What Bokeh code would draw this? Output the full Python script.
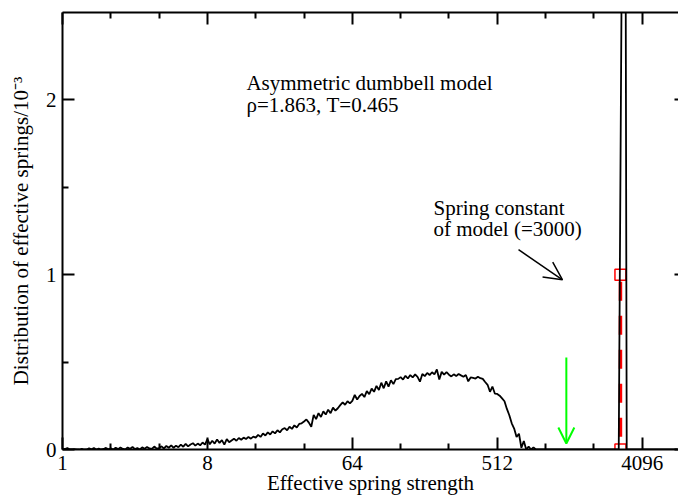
from bokeh.plotting import figure
from bokeh.models import (Range1d, FixedTicker, NumeralTickFormatter, LogAxis, LinearAxis,
                          Label, Arrow, OpenHead)
from bokeh.embed import file_html
from bokeh.resources import INLINE

# ---- data ----
strength_oct0 = [1.000, 1.035, 1.072, 1.110, 1.149, 1.189, 1.231, 1.275, 1.320, 1.366,
                 1.414, 1.464, 1.516, 1.569, 1.625, 1.682, 1.741, 1.803, 1.866, 1.932]
strength_oct1 = [2.000, 2.071, 2.144, 2.219, 2.297, 2.378, 2.462, 2.549, 2.639, 2.732,
                 2.828, 2.928, 3.031, 3.138, 3.249, 3.364, 3.482, 3.605, 3.732, 3.864]
strength_oct2 = [4.000, 4.141, 4.287, 4.438, 4.595, 4.757, 4.925, 5.098, 5.278, 5.464,
                 5.657, 5.856, 6.063, 6.277, 6.498, 6.727, 6.964, 7.210, 7.464, 7.728]
strength_oct3 = [8.000, 8.282, 8.574, 8.877, 9.190, 9.514, 9.849, 10.20, 10.56, 10.93,
                 11.31, 11.71, 12.13, 12.55, 13.00, 13.45, 13.93, 14.42, 14.93, 15.46]
strength_oct4 = [16.00, 16.56, 17.15, 17.75, 18.38, 19.03, 19.70, 20.39, 21.11, 21.86,
                 22.63, 23.43, 24.25, 25.11, 25.99, 26.91, 27.86, 28.84, 29.86, 30.91]
strength_oct5 = [32.00, 33.13, 34.30, 35.51, 36.76, 38.05, 39.40, 40.79, 42.22, 43.71,
                 45.25, 46.85, 48.50, 50.21, 51.98, 53.82, 55.72, 57.68, 59.72, 61.82]
strength_oct6 = [64.00, 66.26, 68.59, 71.01, 73.52, 76.11, 78.79, 81.57, 84.45, 87.42,
                 90.51, 93.70, 97.01, 100.4, 104.0, 107.6, 111.4, 115.4, 119.4, 123.6]
strength_oct7 = [128.0, 132.5, 137.2, 142.0, 147.0, 152.2, 157.6, 163.1, 168.9, 174.8,
                 181.0, 187.4, 194.0, 200.9, 207.9, 215.3, 222.9, 230.7, 238.9, 247.3]
strength_oct8 = [256.0, 265.0, 274.4, 284.1, 294.1, 304.4, 315.2, 326.3, 337.8, 349.7,
                 362.0, 374.8, 388.0, 401.7, 415.9, 430.5, 445.7, 461.4, 477.7, 494.6]
strength_oct9 = [512.0, 530.1, 548.8, 568.1, 588.1, 608.9, 630.3, 652.6, 675.6, 699.4,
                 724.1, 749.6, 776.1, 803.4, 831.7, 861.1, 891.4, 922.9, 955.4, 989.1]

dist_oct0 = [0.000, 0.003, 0.008, 0.000, 0.000, 0.002, 0.000, 0.000, 0.004, 0.000,
             0.000, 0.007, 0.001, 0.008, 0.000, 0.006, 0.000, 0.003, 0.009, 0.001]
dist_oct1 = [0.007, 0.000, 0.010, 0.002, 0.012, 0.003, 0.000, 0.011, 0.004, 0.014,
             0.002, 0.008, 0.000, 0.012, 0.004, 0.015, 0.006, 0.003, 0.017, 0.005]
dist_oct2 = [0.008, 0.018, 0.006, 0.020, 0.010, 0.024, 0.010, 0.022, 0.013, 0.028,
             0.016, 0.032, 0.018, 0.029, 0.036, 0.022, 0.034, 0.024, 0.040, 0.028]
dist_oct3 = [0.060, 0.030, 0.050, 0.034, 0.057, 0.038, 0.054, 0.028, 0.059, 0.042,
             0.052, 0.062, 0.050, 0.066, 0.056, 0.068, 0.060, 0.072, 0.062, 0.074]
dist_oct4 = [0.068, 0.084, 0.072, 0.092, 0.080, 0.098, 0.086, 0.104, 0.092, 0.110,
             0.098, 0.116, 0.122, 0.110, 0.130, 0.118, 0.138, 0.126, 0.146, 0.150]
dist_oct5 = [0.160, 0.172, 0.154, 0.130, 0.198, 0.174, 0.208, 0.186, 0.218, 0.200,
             0.228, 0.208, 0.240, 0.222, 0.236, 0.254, 0.270, 0.256, 0.276, 0.264]
dist_oct6 = [0.278, 0.312, 0.286, 0.306, 0.318, 0.300, 0.334, 0.316, 0.348, 0.330,
             0.364, 0.340, 0.382, 0.350, 0.390, 0.360, 0.396, 0.374, 0.402, 0.404]
dist_oct7 = [0.414, 0.400, 0.422, 0.406, 0.426, 0.412, 0.430, 0.416, 0.388, 0.432,
             0.420, 0.438, 0.426, 0.442, 0.430, 0.458, 0.400, 0.444, 0.428, 0.442]
dist_oct8 = [0.428, 0.418, 0.430, 0.420, 0.432, 0.424, 0.416, 0.426, 0.390, 0.412,
             0.410, 0.406, 0.416, 0.408, 0.404, 0.386, 0.370, 0.330, 0.360, 0.320]
dist_oct9 = [0.318, 0.308, 0.292, 0.276, 0.232, 0.196, 0.150, 0.120, 0.072, 0.090,
             0.010, 0.048, 0.000, 0.016, 0.000, 0.012, 0.000, 0.000, 0.000, 0.000]

peak_strength = [1024.0, 2048.0, 2927.0, 3185.0, 3282.0, 6800.0]
peak_dist = [0.0, 0.0, 0.0, 5.43, 0.0, 0.0]

model_strength = [3000.0, 3000.0]
model_level = [1.0, 0.0]

x_major = [1, 8, 64, 512, 4096]
x_minor = [2, 4, 16, 32, 128, 256, 1024, 2048]
y_major = [0, 1, 2]
y_minor = [0.5, 1.5]

green_arrow = [1380.0, 0.526, 1380.0, 0.034]
black_arrow = [695.0, 1.143, 1306.0, 0.971]

strength = (strength_oct0 + strength_oct1 + strength_oct2 + strength_oct3 + strength_oct4 +
            strength_oct5 + strength_oct6 + strength_oct7 + strength_oct8 + strength_oct9 +
            peak_strength)
distribution = (dist_oct0 + dist_oct1 + dist_oct2 + dist_oct3 + dist_oct4 +
                dist_oct5 + dist_oct6 + dist_oct7 + dist_oct8 + dist_oct9 + peak_dist)

FONT = "Liberation Serif"
FS = "21px"

p = figure(width=678, height=497, x_axis_type="log",
           x_range=Range1d(1, 6900), y_range=Range1d(0, 2.5),
           output_backend="svg", toolbar_location=None,
           min_border_left=62, min_border_right=0, min_border_top=12, min_border_bottom=47,
           background_fill_color="white", border_fill_color="white",
           outline_line_color=None)
p.xgrid.grid_line_color = None
p.ygrid.grid_line_color = None


def style_axis(ax, major_in=12, minor_in=6):
    ax.major_tick_in = major_in
    ax.major_tick_out = 0
    ax.minor_tick_in = minor_in
    ax.minor_tick_out = 0
    ax.axis_line_width = 2
    ax.major_tick_line_width = 2
    ax.minor_tick_line_width = 2
    ax.axis_line_color = "black"
    ax.major_tick_line_color = "black"
    ax.minor_tick_line_color = "black"
    ax.major_label_text_font = FONT
    ax.major_label_text_font_size = FS
    ax.major_label_text_color = "black"
    ax.axis_label_text_font = FONT
    ax.axis_label_text_font_size = FS
    ax.axis_label_text_font_style = "normal"
    ax.axis_label_text_color = "black"


xax = p.xaxis[0]
xax.ticker = FixedTicker(ticks=x_major, minor_ticks=x_minor)
xax.formatter = NumeralTickFormatter(format="0")
style_axis(xax)
xax.major_label_standoff = 6
xax.axis_label = "Effective spring strength"
xax.axis_label_standoff = -2

yax = p.yaxis[0]
yax.ticker = FixedTicker(ticks=y_major, minor_ticks=y_minor)
yax.formatter = NumeralTickFormatter(format="0")
style_axis(yax)
yax.major_label_standoff = 6
yax.axis_label = "Distribution of effective springs/10\u207b\u00b3"
yax.axis_label_standoff = 10

top = LogAxis(ticker=FixedTicker(ticks=x_major, minor_ticks=x_minor),
              formatter=NumeralTickFormatter(format="0"))
style_axis(top)
top.major_label_text_font_size = "1px"
top.major_label_text_alpha = 0
top.major_label_standoff = 0
p.add_layout(top, "above")

right = LinearAxis(ticker=FixedTicker(ticks=y_major, minor_ticks=[]),
                   formatter=NumeralTickFormatter(format="0"))
style_axis(right, major_in=4, minor_in=0)
right.axis_line_color = None
right.major_label_text_font_size = "1px"
right.major_label_text_alpha = 0
right.major_label_standoff = 0
p.add_layout(right, "right")

# red model spring constant marker
p.line(model_strength, model_level, line_color="#ff0000", line_width=3.5,
       line_dash="19 15", line_dash_offset=27)
p.scatter(model_strength, model_level, marker="square", size=11, fill_color=None,
          line_color="#ff0000", line_width=1.5)

# distribution
p.line(strength, distribution, line_color="black", line_width=1.8)

# arrows
p.add_layout(Arrow(end=OpenHead(size=16, line_color="#00ff00", line_width=2),
                   x_start=green_arrow[0], y_start=green_arrow[1],
                   x_end=green_arrow[2], y_end=green_arrow[3],
                   line_color="#00ff00", line_width=2))
p.add_layout(Arrow(end=OpenHead(size=18, line_color="black", line_width=1.5),
                   x_start=black_arrow[0], y_start=black_arrow[1],
                   x_end=black_arrow[2], y_end=black_arrow[3],
                   line_color="black", line_width=1.5))

# texts
for x, y, t in [(14.0, 2.097, "Asymmetric dumbbell model"),
                (14.0, 1.971, "\u03c1=1.863, T=0.465"),
                (205.0, 1.383, "Spring constant"),
                (205.0, 1.263, "of model (=3000)")]:
    p.add_layout(Label(x=x, y=y, text=t, text_font=FONT, text_font_size=FS,
                       text_color="black", text_baseline="alphabetic", text_align="left"))

open("out.html", "w").write(file_html(p, INLINE))
